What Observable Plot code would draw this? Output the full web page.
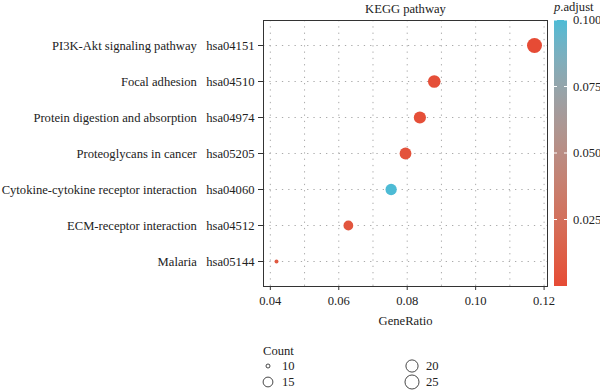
<!DOCTYPE html>
<html><head><meta charset="utf-8">
<script src="https://cdn.jsdelivr.net/npm/d3@7"></script>
<script src="https://cdn.jsdelivr.net/npm/@observablehq/plot@0.6"></script>
<style>
body{margin:0;background:#fff;}
svg{font-family:"Liberation Serif","DejaVu Serif",serif;}
</style></head><body><div id="chart"></div>
<script>
const descriptions = ["PI3K-Akt signaling pathway","Focal adhesion","Protein digestion and absorption","Proteoglycans in cancer","Cytokine-cytokine receptor interaction","ECM-receptor interaction","Malaria"];
const ids = ["hsa04151","hsa04510","hsa04974","hsa05205","hsa04060","hsa04512","hsa05144"];
const geneRatio = [0.1172,0.0879,0.0837,0.0795,0.0753,0.0628,0.0418];
const counts = [28,21,20,19,18,15,10];
const pAdjust = [0.0001,0.002,0.002,0.004,0.1,0.006,0.008];
const xTicks = [0.04,0.06,0.08,0.10,0.12];
const xGrid = [0.04,0.05,0.06,0.07,0.08,0.09,0.10,0.11,0.12];
const colorTicks = [0.025,0.05,0.075,0.1];
const sizeLegend = [10,15,20,25];

const labels = descriptions.map((d,i)=>d+"\u00a0\u00a0\u00a0"+ids[i]);
const data = labels.map((l,i)=>({term:l, ratio:geneRatio[i], count:counts[i], p:pAdjust[i]}));
const rTransform = v=>Math.sqrt(Math.max(0,v-10));

const FS = 12.6;
const W=600,H=390,mL=263,mR=53,mT=20,mB=104;
const plot = Plot.plot({
  width:W, height:H, marginLeft:mL, marginRight:mR, marginTop:mT, marginBottom:mB,
  style:{fontFamily:"Liberation Serif, DejaVu Serif, serif", fontSize:FS+"px", color:"#222", background:"#fff"},
  x:{domain:[0.0380,0.1210]},
  y:{type:"point", domain:labels, padding:0.6},
  r:{type:"linear", transform:rTransform, domain:[0,Math.sqrt(18)], range:[2,7.5]},
  color:{type:"linear", domain:[0,0.1], range:["#E64B35","#4DBBD5"], interpolate:"lab"},
  marks:[
    Plot.ruleX(xGrid,{stroke:"#aaa", strokeDasharray:"1.3,5", strokeWidth:1}),
    Plot.ruleY(labels,{stroke:"#aaa", strokeDasharray:"1.3,5", strokeWidth:1}),
    Plot.dot(data,{x:"ratio", y:"term", r:"count", fill:"p", stroke:"none"}),
    Plot.frame({stroke:"#333", strokeWidth:1}),
    Plot.axisX({ticks:xTicks, tickFormat:d3.format(".2f"), tickSize:4, tickPadding:6, stroke:"#333", fill:"#222", fontSize:FS, label:"GeneRatio", labelAnchor:"center", labelArrow:"none", labelOffset:38}),
    Plot.axisY({tickSize:5, tickPadding:4, stroke:"#333", fill:"#222", fontSize:FS, label:null}),
    Plot.text(["KEGG pathway"],{frameAnchor:"top", lineAnchor:"middle", dy:-11.5, fontSize:FS, fill:"#222"})
  ]
});
document.getElementById("chart").appendChild(plot);

const svg = d3.select(plot);
const colorScale = plot.scale("color");
const cs = d3.scaleLinear().domain(colorScale.domain).range(colorScale.range).interpolate(d3.interpolateLab);
// colour bar
const barX=554, barW=13, barTop=mT, barBot=H-mB;
const defs = svg.append("defs");
const grad = defs.append("linearGradient").attr("id","pgrad").attr("x1",0).attr("y1",1).attr("x2",0).attr("y2",0);
d3.range(0,1.0001,0.05).forEach(t=>grad.append("stop").attr("offset",t).attr("stop-color",cs(colorScale.domain[0]+t*(colorScale.domain[1]-colorScale.domain[0]))));
svg.append("rect").attr("x",barX).attr("y",barTop).attr("width",barW).attr("height",barBot-barTop).attr("fill","url(#pgrad)");
const yb = d3.scaleLinear().domain(colorScale.domain).range([barBot,barTop]);
const g = svg.append("g").attr("text-anchor","start").attr("font-size",FS).attr("fill","#222");
colorTicks.forEach(v=>{
  const y=yb(v);
  g.append("line").attr("x1",barX).attr("x2",barX+3).attr("y1",y).attr("y2",y).attr("stroke","#fff").attr("stroke-width",1);
  g.append("line").attr("x1",barX+barW-3).attr("x2",barX+barW).attr("y1",y).attr("y2",y).attr("stroke","#fff").attr("stroke-width",1);
  g.append("text").attr("x",barX+barW+6).attr("y",y).attr("dy","0.35em").text(d3.format(".3f")(v));
});
const t = g.append("text").attr("x",barX).attr("y",11);
t.append("tspan").attr("font-style","italic").text("p");
t.append("tspan").text(".adjust");

// size legend
const rS = plot.scale("r");
const lg = svg.append("g").attr("font-size",FS).attr("fill","#222").attr("text-anchor","start");
lg.append("text").attr("x",263).attr("y",351).attr("dy","0.35em").text("Count");
sizeLegend.forEach((v,i)=>{
  const cx = i<2 ? 268 : 412;
  const cy = i%2===0 ? 366 : 382;
  lg.append("circle").attr("cx",cx).attr("cy",cy).attr("r",rS.apply(rTransform(v))).attr("fill","none").attr("stroke","#333").attr("stroke-width",0.9);
  lg.append("text").attr("x",cx+14).attr("y",cy).attr("dy","0.35em").text(v);
});
</script></body></html>
